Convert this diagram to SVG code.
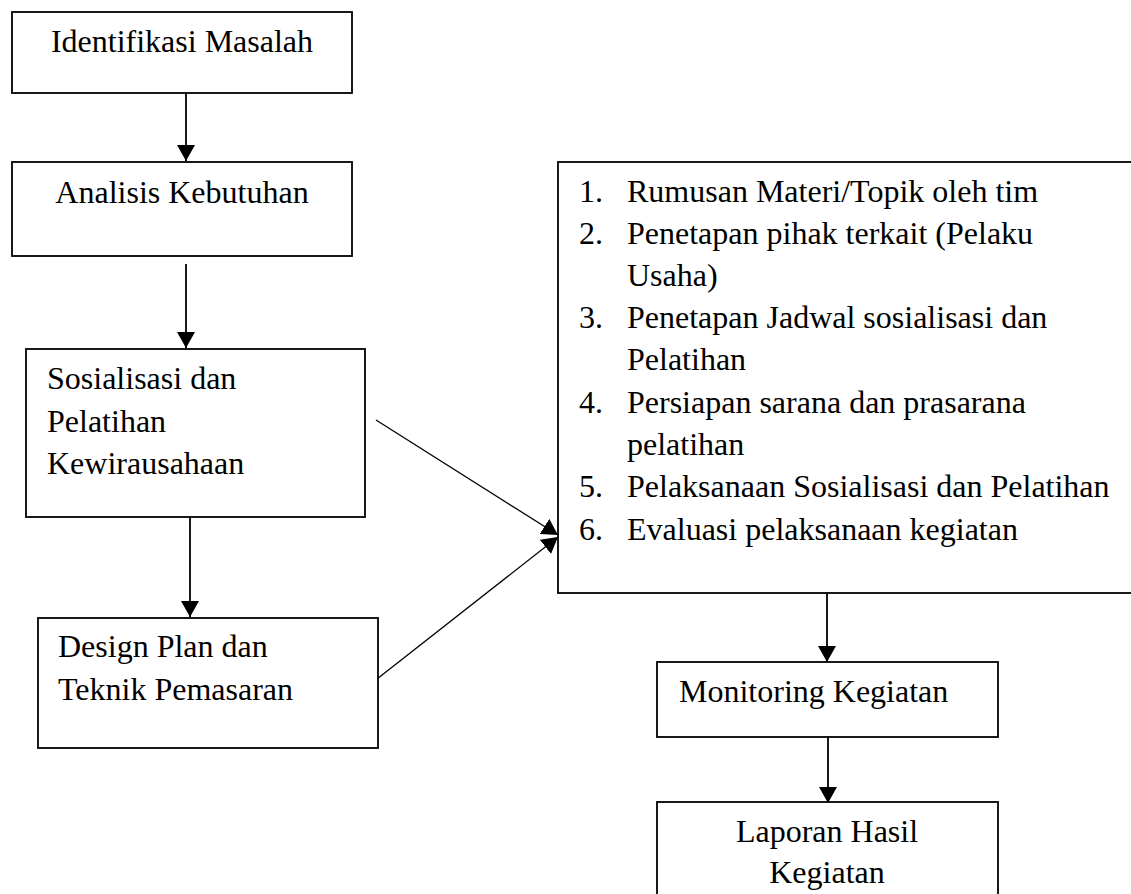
<svg xmlns="http://www.w3.org/2000/svg" width="1131" height="894" viewBox="0 0 1131 894">
<style>
.box{fill:#fff;stroke:#000;stroke-width:1.8}
.t{font-family:"Liberation Serif","Times New Roman",serif;font-size:32px;fill:#000}
.c{text-anchor:middle}
.ln{stroke:#000;stroke-width:1.8;fill:none}
.dg{stroke:#000;stroke-width:1.3;fill:none}
</style>
<defs>
<marker id="ah" markerUnits="userSpaceOnUse" markerWidth="16" markerHeight="18" viewBox="0 0 16 18" refX="16" refY="9" orient="auto">
<path d="M0,0 L16,9 L0,18 z" fill="#000"/>
</marker>
</defs>
<rect width="1131" height="894" fill="#fff"/>
<g id="connectors">
<line class="ln" x1="186" y1="93" x2="186" y2="161" marker-end="url(#ah)"/>
<line class="ln" x1="186" y1="264" x2="186" y2="348" marker-end="url(#ah)"/>
<line class="ln" x1="190" y1="517" x2="190" y2="617" marker-end="url(#ah)"/>
<line class="dg" x1="376" y1="420" x2="558" y2="535" marker-end="url(#ah)"/>
<line class="dg" x1="377" y1="679" x2="558" y2="537" marker-end="url(#ah)"/>
<line class="ln" x1="827" y1="593" x2="827" y2="662" marker-end="url(#ah)"/>
<line class="ln" x1="828" y1="737" x2="828" y2="803" marker-end="url(#ah)"/>
</g>
<g id="n1">
<rect class="box" x="12" y="12" width="340" height="81"/>
<text class="t c" x="182" y="52">Identifikasi Masalah</text>
</g>
<g id="n2">
<rect class="box" x="12" y="162" width="340" height="94"/>
<text class="t c" x="182" y="203">Analisis Kebutuhan</text>
</g>
<g id="n3">
<rect class="box" x="26" y="349" width="339" height="168"/>
<text class="t" x="47" y="389">Sosialisasi dan</text>
<text class="t" x="47" y="432">Pelatihan</text>
<text class="t" x="47" y="474">Kewirausahaan</text>
</g>
<g id="n4">
<rect class="box" x="38" y="618" width="340" height="130"/>
<text class="t" x="58" y="657">Design Plan dan</text>
<text class="t" x="58" y="700">Teknik Pemasaran</text>
</g>
<g id="n5">
<rect class="box" x="558" y="162" width="600" height="431"/>
<text class="t" x="579" y="202">1.</text><text class="t" x="627" y="202">Rumusan Materi/Topik oleh tim</text>
<text class="t" x="579" y="244">2.</text><text class="t" x="627" y="244">Penetapan pihak terkait (Pelaku</text>
<text class="t" x="627" y="286">Usaha)</text>
<text class="t" x="579" y="328">3.</text><text class="t" x="627" y="328">Penetapan Jadwal sosialisasi dan</text>
<text class="t" x="627" y="370">Pelatihan</text>
<text class="t" x="579" y="413">4.</text><text class="t" x="627" y="413">Persiapan sarana dan prasarana</text>
<text class="t" x="627" y="455">pelatihan</text>
<text class="t" x="579" y="497">5.</text><text class="t" x="627" y="497">Pelaksanaan Sosialisasi dan Pelatihan</text>
<text class="t" x="579" y="540">6.</text><text class="t" x="627" y="540">Evaluasi pelaksanaan kegiatan</text>
</g>
<g id="n6">
<rect class="box" x="657" y="662" width="341" height="75"/>
<text class="t" x="679" y="702">Monitoring Kegiatan</text>
</g>
<g id="n7">
<rect class="box" x="657" y="802" width="341" height="110"/>
<text class="t c" x="827" y="842">Laporan Hasil</text>
<text class="t c" x="827" y="883">Kegiatan</text>
</g>
</svg>
